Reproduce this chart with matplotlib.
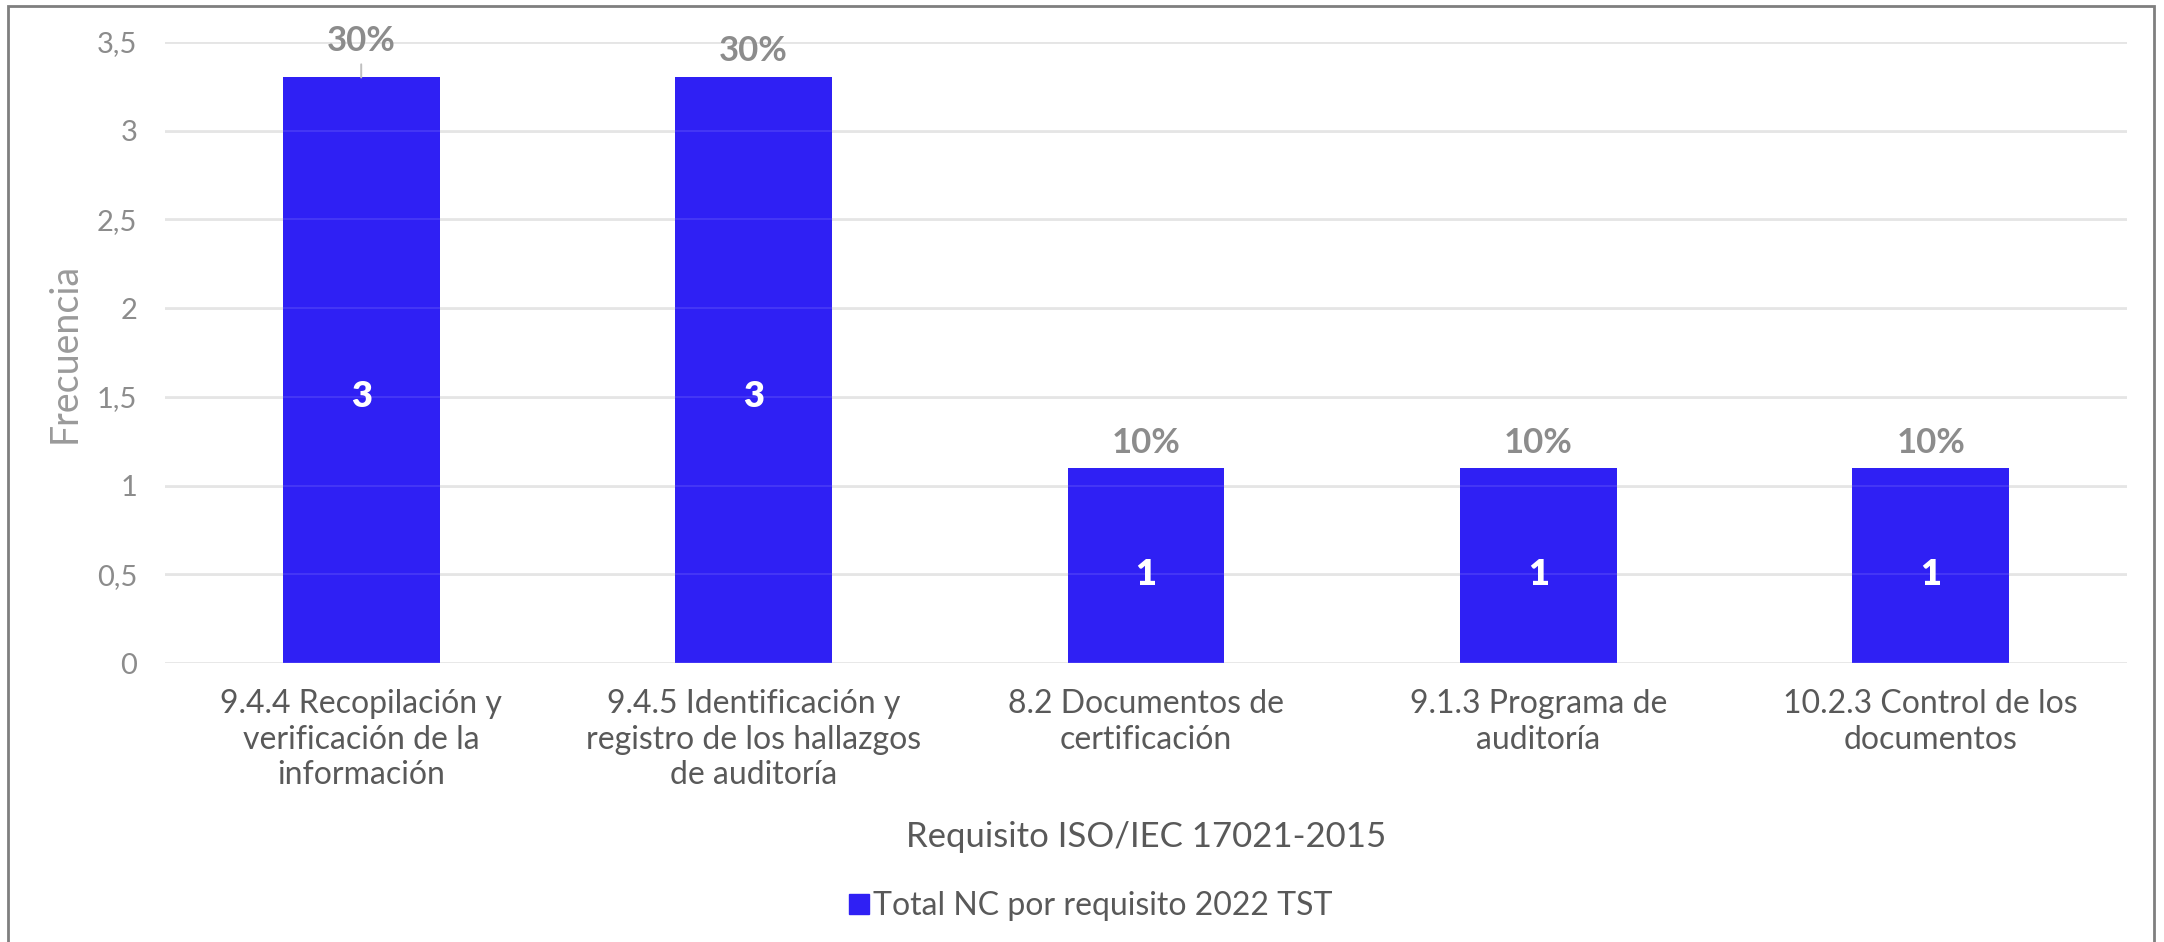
import matplotlib
matplotlib.use("Agg")
import matplotlib.pyplot as plt
from matplotlib.patches import Rectangle
from matplotlib.lines import Line2D

categories = [
    "9.4.4 Recopilación y\nverificación de la\ninformación",
    "9.4.5 Identificación y\nregistro de los hallazgos\nde auditoría",
    "8.2 Documentos de\ncertificación",
    "9.1.3 Programa de\nauditoría",
    "10.2.3 Control de los\ndocumentos",
]
counts = [3, 3, 1, 1, 1]
shares = [0.3, 0.3, 0.1, 0.1, 0.1]
share_labels = ["30%", "30%", "10%", "10%", "10%"]
yticks = [0, 0.5, 1, 1.5, 2, 2.5, 3, 3.5]
ytick_labels = ["0", "0,5", "1", "1,5", "2", "2,5", "3", "3,5"]
series_name = "Total NC por requisito 2022 TST"

plt.rcParams['font.family'] = ['Lato', 'DejaVu Sans']

W, H = 2164, 942
fig = plt.figure(figsize=(W / 100, H / 100), dpi=100)
ax = fig.add_axes([165 / W, 1 - 663 / H, (2127 - 165) / W, (663 - 42) / H])

bar_color = "#2F20F4"
x = list(range(len(categories)))
ax.bar(x, counts, width=0.4, color=bar_color, zorder=2)
ax.bar(x, shares, bottom=counts, width=0.4, color=bar_color, zorder=2)

# grid (faintly visible over bars too)
for t in yticks:
    ax.axhline(t, color="#e3e3e3", lw=2, zorder=1)
    ax.axhline(t, color="#ffffff", lw=1.2, alpha=0.12, zorder=3)

ax.set_xlim(-0.5, len(categories) - 0.5)
ax.set_ylim(0, 3.5)
ax.set_yticks(yticks)
ax.set_yticklabels(ytick_labels)
ax.set_xticks(x)
ax.set_xticklabels(categories, linespacing=1.22)
for s in ax.spines.values():
    s.set_visible(False)
ax.tick_params(axis='y', length=0, pad=20, labelsize=21, labelcolor="#8c8c8c")
ax.tick_params(axis='x', length=0, pad=19, labelsize=23, labelcolor="#595959")

# inner count labels
for xi, c in zip(x, counts):
    ax.text(xi, c / 2, str(c), ha="center", va="center", color="white",
            fontsize=26, fontweight="heavy", zorder=4)

# percentage labels
offsets = [26, 19, 18, 18, 18]
for i, (xi, c, s, lab) in enumerate(zip(x, counts, shares, share_labels)):
    top = c + s
    kw = dict(xy=(xi, top), xytext=(0, offsets[i]), textcoords="offset points",
              ha="center", va="center", fontsize=25, fontweight="bold",
              color="#8c8c8c", annotation_clip=False, zorder=4)
    if i == 0:
        kw["arrowprops"] = dict(arrowstyle="-", color="#bfbfbf", lw=1.4,
                                shrinkA=3, shrinkB=0)
    ax.annotate(lab, **kw)

ax.set_ylabel("Frecuencia", fontsize=27, color="#9a9a9a", labelpad=10)
ax.set_xlabel("Requisito ISO/IEC 17021-2015", fontsize=25, color="#595959", labelpad=22)

handle = Line2D([], [], marker="s", linestyle="none", markersize=15,
                markerfacecolor=bar_color, markeredgecolor=bar_color)
fig.legend([handle], [series_name], loc="center", bbox_to_anchor=(1090 / W, 1 - 906 / H),
           frameon=False, fontsize=23, labelcolor="#595959", handletextpad=0.1,
           handlelength=0.7)

# outer border
fig.patches.append(Rectangle((8 / W, -0.01), (2154 - 8) / W, 1 - 6 / H + 0.01,
                             transform=fig.transFigure, fill=False,
                             edgecolor="#7f7f7f", lw=2))

fig.savefig("out.png", dpi=100, facecolor="white")
